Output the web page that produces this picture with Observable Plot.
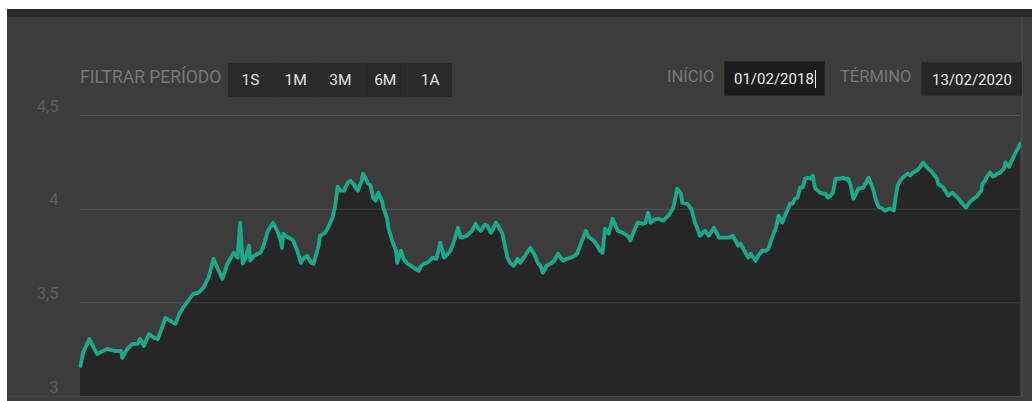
<!DOCTYPE html>
<html><head><meta charset="utf-8">
<script src="https://cdn.jsdelivr.net/npm/d3@7"></script>
<script src="https://cdn.jsdelivr.net/npm/@observablehq/plot@0.6"></script>
<style>
html,body{margin:0;padding:0;background:#fff;width:1032px;height:401px;overflow:hidden;font-family:Roboto,"Liberation Sans",sans-serif;}
#panel{position:absolute;left:7px;top:9px;width:1025px;height:392px;background:#3c3c3c;}
#band{position:absolute;left:0;top:0;width:100%;height:8px;background:#2a2a2a;}
#chart{position:absolute;left:0;top:8px;}
#rborder{position:absolute;left:1014px;top:8px;width:2px;height:380px;background:#464646;}
#bborder{position:absolute;left:0;top:387px;width:1016px;height:1px;background:#474747;}
.lbl{position:absolute;top:60px;height:34px;line-height:34px;font-size:16.5px;color:#787878;white-space:nowrap;}
#btns{position:absolute;left:228px;top:63px;width:224px;height:34px;background:#2a2a2a;display:flex;}
#btns div{width:44.8px;text-align:center;line-height:34px;font-size:15.5px;color:#e2e2e2;box-sizing:border-box;border-left:1px solid #303030;}
#btns div:first-child{border-left:none;}
.box{position:absolute;height:34px;line-height:34px;font-size:15px;color:#ececec;box-sizing:border-box;white-space:nowrap;}
#ini{left:724px;top:61px;width:101px;height:35px;background:#1c1c1c;padding-left:9px;border:1px solid #262626;}
#ini span{border-right:1px solid #eee;padding-right:1px;}
#fim{left:921px;top:62px;width:101px;background:#262626;padding-left:10px;border:1px solid #2c2c2c;}
</style>
</head><body>
<div id="panel"><div id="band"></div><div id="chart"></div><div id="rborder"></div><div id="bborder"></div></div>
<div class="lbl" style="left:80px;font-size:17.5px;">FILTRAR PERÍODO</div>
<div id="btns"></div>
<div class="lbl" style="left:667px;">INÍCIO</div>
<div class="box" id="ini"><span>01/02/2018</span></div>
<div class="lbl" style="left:840px;">TÉRMINO</div>
<div class="box" id="fim">13/02/2020</div>
<script>
// Filter buttons
const periodos = ["1S","1M","3M","6M","1A"];
// Date range
const inicio = "2018-02-01";
const termino = "2020-02-13";
// Y ticks
const yTicks = [3, 3.5, 4, 4.5];
// Days since start date
const dias = [0,2,7,13,21,27,32,33,37,41,45,47,50,54,58,61,64,67,71,75,78,81,85,89,93,97,101,105,108,112,116,121,124,126,128,130,133,134,137,140,142,144,148,152,156,158,159,160,163,166,168,171,174,176,179,182,184,188,189,193,195,199,201,203,205,208,211,213,216,217,219,222,223,226,227,229,231,233,235,238,239,242,243,246,249,250,253,255,258,261,264,267,269,271,274,278,281,284,287,290,292,295,298,300,303,305,309,312,314,316,319,321,324,325,328,330,333,335,337,339,342,345,347,351,355,358,361,363,365,368,371,374,377,379,381,384,387,390,392,395,399,401,403,405,408,410,412,414,417,420,424,428,432,434,437,440,444,446,448,450,453,456,460,464,468,470,471,474,475,479,482,483,485,487,489,493,496,500,504,508,512,515,519,521,524,527,529,530,533,535,538,541,543,546,549,551,554,557,558,560,562,564,566,568,570,572,574,576,578,579,580,582,584,586,588,590,592,594,596,600,602,605,606,608,610,612,614,618,622,624,626,628,630,633,635,639,642,643,645,647,649,653,655,657,660,662,665,667,669,671,673,676,677,681,684,685,688,689,693,696,699,701,703,706,708,711,712,714,716,718,720,722,724,726,729,730,733,734,737,739,740,742];
// Exchange rate values (R$)
const cotacao = [3.163,3.233,3.307,3.227,3.254,3.243,3.243,3.206,3.254,3.281,3.281,3.307,3.270,3.334,3.313,3.307,3.361,3.420,3.404,3.388,3.441,3.473,3.511,3.548,3.553,3.580,3.634,3.735,3.687,3.628,3.709,3.767,3.741,3.928,3.709,3.735,3.805,3.725,3.751,3.762,3.767,3.794,3.885,3.928,3.874,3.832,3.794,3.869,3.853,3.842,3.832,3.778,3.714,3.735,3.751,3.714,3.709,3.805,3.858,3.874,3.896,3.955,4.019,4.120,4.099,4.099,4.142,4.152,4.131,4.115,4.099,4.152,4.190,4.152,4.136,4.126,4.061,4.045,4.088,4.045,4.008,3.949,3.901,3.832,3.778,3.714,3.778,3.735,3.709,3.698,3.682,3.671,3.698,3.709,3.714,3.741,3.735,3.821,3.741,3.762,3.778,3.832,3.901,3.848,3.853,3.858,3.885,3.922,3.896,3.885,3.917,3.912,3.874,3.885,3.928,3.906,3.869,3.805,3.741,3.714,3.698,3.735,3.714,3.751,3.794,3.762,3.714,3.698,3.660,3.698,3.709,3.725,3.762,3.741,3.725,3.735,3.741,3.751,3.762,3.816,3.885,3.853,3.842,3.832,3.805,3.778,3.767,3.896,3.869,3.949,3.885,3.874,3.858,3.832,3.885,3.928,3.922,3.928,3.981,3.928,3.944,3.949,3.939,3.965,4.008,4.072,4.110,4.083,4.035,4.029,4.003,3.981,3.928,3.896,3.858,3.885,3.858,3.901,3.848,3.848,3.848,3.858,3.805,3.816,3.778,3.741,3.762,3.751,3.725,3.751,3.778,3.778,3.789,3.848,3.901,3.965,3.928,3.981,3.992,4.029,4.029,4.056,4.061,4.115,4.115,4.163,4.168,4.163,4.179,4.142,4.110,4.099,4.088,4.083,4.083,4.061,4.072,4.088,4.163,4.163,4.168,4.158,4.163,4.126,4.056,4.078,4.110,4.115,4.168,4.136,4.099,4.045,4.013,4.003,3.992,4.003,3.992,4.045,4.126,4.152,4.168,4.190,4.179,4.195,4.206,4.217,4.249,4.233,4.217,4.206,4.190,4.163,4.136,4.115,4.083,4.072,4.088,4.083,4.056,4.029,4.008,4.029,4.045,4.061,4.072,4.099,4.136,4.152,4.179,4.195,4.174,4.179,4.190,4.195,4.217,4.249,4.227,4.243,4.286,4.313,4.324,4.350];

const btns = document.getElementById("btns");
periodos.forEach(p => { const d = document.createElement("div"); d.textContent = p; btns.appendChild(d); });

const start = new Date(inicio + "T00:00:00Z");
const end = new Date(termino + "T00:00:00Z");
const data = dias.map((d, i) => ({date: d3.utcDay.offset(start, d), v: cotacao[i]}));

const chart = Plot.plot({
  width: 1015, height: 379,
  marginLeft: 73, marginRight: 2, marginTop: 98, marginBottom: 0,
  x: {type: "utc", domain: [start, end], axis: null},
  y: {domain: [3, 4.5], axis: null},
  style: {background: "transparent", fontFamily: "Roboto, sans-serif", fontSize: "16.5px"},
  marks: [
    Plot.areaY(data, {x: "date", y1: 3, y2: "v", fill: "#262626"}),
    Plot.ruleY(yTicks, {stroke: "#ffffff", strokeOpacity: 0.12, strokeWidth: 1}),
    Plot.lineY(data, {x: "date", y: "v", stroke: "#1ba98b", strokeWidth: 3.8, strokeLinejoin: "round"}),
    Plot.axisY(yTicks, {tickSize: 0, tickPadding: 22, dy: -9, fill: "#5e5e5e", label: null,
      tickFormat: d => String(d).replace(".", ",")})
  ]
});
document.getElementById("chart").appendChild(chart);
</script>
</body></html>
